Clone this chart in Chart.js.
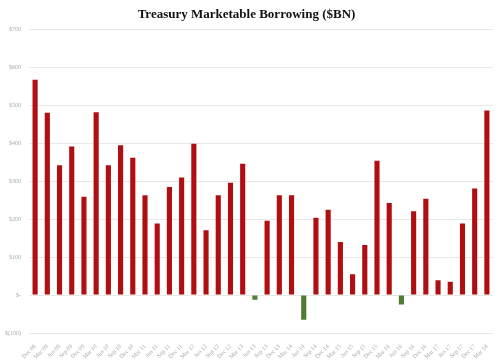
<!DOCTYPE html>
<html>
<head>
    <title>Treasury Marketable Borrowing</title>
    <script src="https://cdn.jsdelivr.net/npm/chart.js"></script>
    <style>
        body { margin: 0; background: #fff; }
    </style>
</head>
<body>
    <canvas id="borrowChart" width="500" height="361"></canvas>

    <script>
        // quarterly labels, Dec 08 .. Mar 18
        var quarters = ['Dec 08', 'Mar 09', 'Jun 09', 'Sep 09', 'Dec 09', 'Mar 10', 'Jun 10', 'Sep 10',
            'Dec 10', 'Mar 11', 'Jun 11', 'Sep 11', 'Dec 11', 'Mar 12', 'Jun 12', 'Sep 12',
            'Dec 12', 'Mar 13', 'Jun 13', 'Sep 13', 'Dec 13', 'Mar 14', 'Jun 14', 'Sep 14',
            'Dec 14', 'Mar 15', 'Jun 15', 'Sep 15', 'Dec 15', 'Mar 16', 'Jun 16', 'Sep 16',
            'Dec 16', 'Mar 17', 'Jun 17', 'Sep 17', 'Dec 17', 'Mar 18'];

        // borrowing in $BN
        var borrowing = [568, 481, 342, 392, 259, 482, 342, 395,
            362, 263, 189, 285, 310, 399, 171, 263,
            296, 346, -12, 196, 263, 263, -65, 204,
            225, 140, 55, 132, 354, 243, -25, 221,
            254, 39, 35, 189, 281, 487];

        var yTicksMin = -100;
        var yTicksMax = 700;
        var yStep = 100;

        var colors = borrowing.map(function(v) {
            return v < 0 ? '#4f7d35' : '#b00f12';
        });

        function moneyLabel(v) {
            if (v === 0) return '$-';
            if (v < 0) return '$(' + (-v) + ')';
            return '$' + v;
        }

        var ctx = document.getElementById('borrowChart').getContext('2d');
        var chart = new Chart(ctx, {
            type: 'bar',
            data: {
                labels: quarters,
                datasets: [{
                    data: borrowing,
                    backgroundColor: colors,
                    barPercentage: 0.42,
                    categoryPercentage: 1.0
                }]
            },
            options: {
                responsive: false,
                animation: false,
                layout: { padding: { left: 0, right: 7, top: 0, bottom: 0 } },
                plugins: {
                    legend: { display: false },
                    tooltip: { enabled: false },
                    title: {
                        display: true,
                        text: 'Treasury Marketable Borrowing ($BN)',
                        color: '#111',
                        font: { family: 'Liberation Serif', size: 13, weight: 'bold' },
                        padding: { top: 7, bottom: 7 }
                    }
                },
                scales: {
                    x: {
                        grid: { display: false },
                        border: { display: false },
                        ticks: {
                            color: '#aaa',
                            font: { family: 'Liberation Serif', size: 6 },
                            minRotation: 45,
                            maxRotation: 45,
                            autoSkip: false,
                            padding: 2
                        },
                        afterFit: function(scale) { scale.height = 28; }
                    },
                    y: {
                        min: yTicksMin,
                        max: yTicksMax,
                        grid: { color: '#e8e8e8', drawTicks: false },
                        border: { display: false },
                        ticks: {
                            stepSize: yStep,
                            color: '#aaa',
                            font: { family: 'Liberation Serif', size: 6 },
                            padding: 8,
                            callback: function(v) { return moneyLabel(v); }
                        },
                        afterFit: function(scale) { scale.width = 29; }
                    }
                }
            }
        });
    </script>
</body>
</html>
